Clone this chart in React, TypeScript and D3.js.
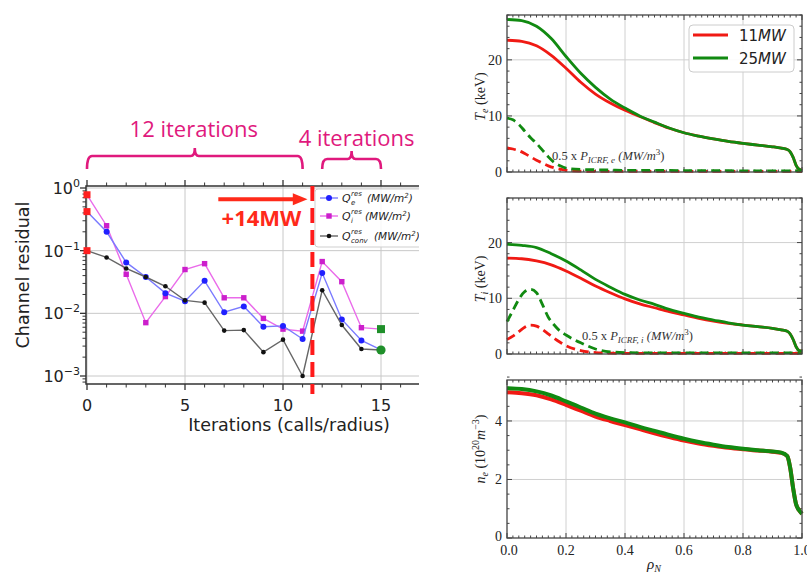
import React, { useEffect, useRef } from 'react';
import * as d3 from 'd3';

// ---------- left panel: channel residual per iteration ----------
const iterations = [0, 1, 2, 3, 4, 5, 6, 7, 8, 9, 10, 11, 12, 13, 14, 15];
const qeRes = [0.42, 0.2, 0.065, 0.038, 0.021, 0.0156, 0.033, 0.0104, 0.0129, 0.0061, 0.0063, 0.0039, 0.044, 0.008, 0.0037, 0.0026];
const qiRes = [0.78, 0.25, 0.042, 0.0071, 0.0185, 0.05, 0.062, 0.0177, 0.0177, 0.0083, 0.0056, 0.0052, 0.067, 0.032, 0.0059, 0.0056];
const qConvRes = [0.1, 0.078, 0.052, 0.038, 0.027, 0.0161, 0.0148, 0.0053, 0.0054, 0.0024, 0.0038, 0.001, 0.0234, 0.0065, 0.0027, 0.0026];
const iterTicks = [0, 5, 10, 15];
const decades = [1, 0.1, 0.01, 0.001];
const decadeExp = ['0', '\u22121', '\u22122', '\u22123'];
const bracketSpans = [[0, 11], [12, 15]];
const bracketLabels = ['12 iterations', '4 iterations'];
const powerStep = 11.5;

// ---------- right panels: profiles vs rho ----------
const rho = [0, 0.05, 0.1, 0.15, 0.2, 0.25, 0.3, 0.35, 0.4, 0.45, 0.5, 0.55, 0.6, 0.65, 0.7, 0.75, 0.8, 0.85, 0.9, 0.93, 0.95, 0.96, 0.97, 0.98, 0.99, 1.0];
const te11 = [23.5, 23.3, 22.5, 20.8, 18.5, 16.0, 13.9, 12.3, 11.0, 9.9, 8.8, 7.8, 7.0, 6.4, 5.9, 5.45, 5.1, 4.8, 4.5, 4.25, 4.0, 3.6, 2.6, 1.2, 0.5, 0.3];
const te25 = [27.2, 27.0, 26.0, 23.8, 20.6, 17.6, 15.1, 13.0, 11.4, 10.0, 8.9, 7.85, 7.0, 6.4, 5.9, 5.45, 5.1, 4.8, 4.5, 4.25, 4.0, 3.6, 2.6, 1.2, 0.5, 0.3];
const ti11 = [17.2, 17.1, 16.7, 16.0, 14.9, 13.6, 12.2, 11.0, 9.9, 9.0, 8.3, 7.6, 7.0, 6.4, 5.9, 5.5, 5.2, 4.9, 4.6, 4.35, 4.1, 3.6, 2.6, 1.3, 0.6, 0.5];
const ti25 = [19.7, 19.5, 19.1, 18.0, 16.7, 15.1, 13.4, 12.0, 10.7, 9.7, 8.9, 8.0, 7.3, 6.6, 6.1, 5.6, 5.2, 4.9, 4.6, 4.35, 4.1, 3.6, 2.6, 1.3, 0.6, 0.5];
const ne11 = [4.98, 4.95, 4.88, 4.74, 4.55, 4.35, 4.15, 4.0, 3.86, 3.72, 3.58, 3.45, 3.33, 3.23, 3.15, 3.08, 3.03, 2.99, 2.95, 2.91, 2.8, 2.4, 1.7, 1.15, 0.95, 0.83];
const ne25 = [5.12, 5.09, 5.01, 4.87, 4.67, 4.46, 4.25, 4.09, 3.95, 3.8, 3.66, 3.52, 3.39, 3.28, 3.19, 3.11, 3.05, 3.0, 2.96, 2.92, 2.8, 2.4, 1.7, 1.15, 0.95, 0.83];

const rhoIcrf = [0, 0.02, 0.04, 0.06, 0.08, 0.1, 0.12, 0.14, 0.16, 0.18, 0.2, 0.25, 0.3, 0.35, 0.4, 0.5, 0.6, 0.7, 0.8, 0.9, 1.0];
const pe11 = [4.3, 4.1, 3.8, 3.3, 2.7, 2.1, 1.6, 1.1, 0.75, 0.5, 0.3, 0.15, 0.1, 0.1, 0.1, 0.1, 0.1, 0.1, 0.1, 0.1, 0.1];
const pe25 = [9.6, 9.3, 8.5, 7.3, 6.1, 5.1, 3.9, 2.7, 1.7, 1.1, 0.7, 0.45, 0.4, 0.35, 0.3, 0.3, 0.25, 0.25, 0.2, 0.2, 0.2];
const pi11 = [2.6, 3.2, 4.0, 4.8, 5.2, 5.0, 4.4, 3.6, 2.8, 2.1, 1.5, 0.6, 0.25, 0.15, 0.1, 0.1, 0.1, 0.1, 0.1, 0.1, 0.1];
const pi25 = [5.8, 7.8, 9.8, 11.2, 11.6, 11.0, 8.9, 6.6, 5.2, 4.1, 3.4, 2.0, 0.9, 0.4, 0.25, 0.2, 0.2, 0.2, 0.2, 0.2, 0.2];

const rhoTicks = [0, 0.2, 0.4, 0.6, 0.8, 1.0];
const tempTicks = [0, 10, 20];
const densTicks = [0, 2, 4];
const powers = ['11', '25'];

const RED = '#f01a14';
const GREEN = '#118a11';
const PINK = '#e0197d';
const SANS = 'DejaVu Sans, sans-serif';
const SERIF = 'Liberation Serif, Times New Roman, serif';

type Part = { t: string; it?: boolean; dy?: number; fs?: number };

function rich(sel: any, parts: Part[]) {
  parts.forEach(p => {
    const ts = sel.append('tspan').text(p.t);
    if (p.it) ts.attr('font-style', 'italic');
    if (p.dy) ts.attr('dy', p.dy);
    if (p.fs) ts.attr('font-size', p.fs);
  });
}

function drawResiduals(svg: any) {
  const top = 186, bottom = 384, left = 86;
  const x = d3.scaleLinear().domain([0, 15]).range([87, 381]);
  const y = d3.scaleLog().domain([1, 0.001]).range([188, 376]);

  svg.append('clipPath').attr('id', 'leftClip')
    .append('rect').attr('x', 0).attr('y', 0).attr('width', 419).attr('height', 576);
  const g = svg.append('g').attr('clip-path', 'url(#leftClip)');

  // grid
  iterTicks.forEach(t => {
    g.append('line').attr('x1', x(t)).attr('x2', x(t)).attr('y1', top).attr('y2', bottom)
      .attr('stroke', '#c8c8c8').attr('stroke-width', 1);
  });
  decades.forEach(d => {
    g.append('line').attr('x1', left).attr('x2', 440).attr('y1', y(d)).attr('y2', y(d))
      .attr('stroke', '#c8c8c8').attr('stroke-width', 1);
  });

  // ticks (outward)
  for (let i = 0; i <= 18; i++) {
    const major = i % 5 === 0;
    const len = major ? 6 : 3.5;
    g.append('line').attr('x1', x(i)).attr('x2', x(i)).attr('y1', bottom).attr('y2', bottom + len)
      .attr('stroke', '#333').attr('stroke-width', major ? 1.3 : 1);
    g.append('line').attr('x1', x(i)).attr('x2', x(i)).attr('y1', top).attr('y2', top - len)
      .attr('stroke', '#333').attr('stroke-width', major ? 1.3 : 1);
  }
  [0.001, 0.01, 0.1, 1].forEach(d => {
    for (let k = 1; k <= 9; k++) {
      const v = d * k;
      const py = y(v);
      if (py < top || py > bottom) continue;
      const len = k === 1 ? 6 : 3.5;
      g.append('line').attr('x1', left - len).attr('x2', left).attr('y1', py).attr('y2', py)
        .attr('stroke', '#333').attr('stroke-width', k === 1 ? 1.3 : 1);
    }
  });
  [0.0008, 0.0009].forEach(v => {
    g.append('line').attr('x1', left - 3.5).attr('x2', left).attr('y1', y(v)).attr('y2', y(v))
      .attr('stroke', '#333');
  });

  // frame
  g.append('path').attr('d', `M440,${top}H${left}V${bottom}H440`)
    .attr('fill', 'none').attr('stroke', '#333').attr('stroke-width', 1.5);

  // tick labels
  iterTicks.forEach(t => {
    g.append('text').attr('x', x(t)).attr('y', 411).attr('text-anchor', 'middle')
      .attr('font-family', SANS).attr('font-size', 16).attr('fill', '#222').text(String(t));
  });
  decades.forEach((d, i) => {
    const t = g.append('text').attr('x', 80).attr('y', y(d) + 6).attr('text-anchor', 'end')
      .attr('font-family', SANS).attr('font-size', 16).attr('fill', '#222');
    rich(t, [{ t: '10' }, { t: decadeExp[i], dy: -7, fs: 11 }]);
  });

  // axis labels
  g.append('text').attr('x', 289).attr('y', 431).attr('text-anchor', 'middle')
    .attr('font-family', SANS).attr('font-size', 17.5).attr('fill', '#222')
    .text('Iterations (calls/radius)');
  g.append('text').attr('transform', 'translate(29,275) rotate(-90)').attr('text-anchor', 'middle')
    .attr('font-family', SANS).attr('font-size', 17.5).attr('fill', '#222')
    .text('Channel residual');

  // series
  const line = d3.line<number>().x((_, i) => x(iterations[i])).y(v => y(v));
  const series = [
    { vals: qiRes, line: '#ea6bea', mark: '#cc1fcc', shape: 'square' },
    { vals: qeRes, line: '#7a7aff', mark: '#2020ff', shape: 'circle' },
    { vals: qConvRes, line: '#666', mark: '#111', shape: 'dot' },
  ];
  series.forEach(s => {
    g.append('path').datum(s.vals).attr('d', line).attr('fill', 'none')
      .attr('stroke', s.line).attr('stroke-width', 1.4);
    s.vals.forEach((v, i) => {
      if (i === 0 || (i === 15 && s.shape !== 'dot')) return;
      if (s.shape === 'square') {
        g.append('rect').attr('x', x(iterations[i]) - 2.7).attr('y', y(v) - 2.7)
          .attr('width', 5.4).attr('height', 5.4).attr('fill', s.mark);
      } else {
        g.append('circle').attr('cx', x(iterations[i])).attr('cy', y(v))
          .attr('r', s.shape === 'circle' ? 3 : 2.3).attr('fill', s.mark);
      }
    });
  });
  // initial (red) and converged (green) markers
  [qiRes[0], qeRes[0], qConvRes[0]].forEach(v => {
    g.append('rect').attr('x', x(0) - 3.5).attr('y', y(v) - 3.5).attr('width', 7).attr('height', 7)
      .attr('fill', '#ff1f1f');
  });
  g.append('rect').attr('x', x(15) - 4).attr('y', y(qiRes[15]) - 4).attr('width', 8).attr('height', 8)
    .attr('fill', '#1f8f2a');
  g.append('circle').attr('cx', x(15)).attr('cy', y(qeRes[15])).attr('r', 4.6).attr('fill', '#1f8f2a');

  // power step
  g.append('line').attr('x1', x(powerStep)).attr('x2', x(powerStep)).attr('y1', top).attr('y2', bottom + 10)
    .attr('stroke', '#ff1a1a').attr('stroke-width', 4).attr('stroke-dasharray', '15 7');
  const ay = y(0.66);
  g.append('line').attr('x1', x(6.7)).attr('x2', x(10.6)).attr('y1', ay).attr('y2', ay)
    .attr('stroke', '#ff2a1a').attr('stroke-width', 4);
  g.append('path')
    .attr('d', `M${x(11.25)},${ay}L${x(10.5)},${ay - 6}L${x(10.5)},${ay + 6}Z`)
    .attr('fill', '#ff2a1a');
  g.append('text').attr('x', x(8.9)).attr('y', 226).attr('text-anchor', 'middle')
    .attr('font-family', 'Open Sans, sans-serif').attr('font-weight', 'bold').attr('font-size', 22)
    .attr('fill', '#ff2a1a').text('+14MW');

  // legend
  g.append('rect').attr('x', 315).attr('y', 189).attr('width', 130).attr('height', 58).attr('rx', 3)
    .attr('fill', 'rgba(255,255,255,0.85)').attr('stroke', '#cfcfcf');
  const legendRows = [
    { y: 198, line: '#7a7aff', mark: '#2020ff', shape: 'circle', sub: 'e', after: 367 },
    { y: 216, line: '#ea6bea', mark: '#cc1fcc', shape: 'square', sub: 'i', after: 365 },
    { y: 236, line: '#666', mark: '#111', shape: 'dot', sub: 'conv', after: 374 },
  ];
  legendRows.forEach(r => {
    g.append('line').attr('x1', 320).attr('x2', 338).attr('y1', r.y).attr('y2', r.y)
      .attr('stroke', r.line).attr('stroke-width', 1.4);
    if (r.shape === 'square') {
      g.append('rect').attr('x', 326.3).attr('y', r.y - 2.7).attr('width', 5.4).attr('height', 5.4).attr('fill', r.mark);
    } else {
      g.append('circle').attr('cx', 329).attr('cy', r.y).attr('r', r.shape === 'circle' ? 3 : 2.3).attr('fill', r.mark);
    }
    g.append('text').attr('x', 342).attr('y', r.y + 4).attr('font-family', SANS).attr('font-style', 'italic')
      .attr('font-size', 11).attr('fill', '#222').text('Q');
    g.append('text').attr('x', 351).attr('y', r.y - 2).attr('font-family', SANS).attr('font-style', 'italic')
      .attr('font-size', 7).attr('fill', '#222').text('res');
    g.append('text').attr('x', 351).attr('y', r.y + 7).attr('font-family', SANS).attr('font-style', 'italic')
      .attr('font-size', 7).attr('fill', '#222').text(r.sub);
    const t = g.append('text').attr('x', r.after).attr('y', r.y + 4).attr('font-family', SANS)
      .attr('font-style', 'italic').attr('font-size', 10.5).attr('fill', '#222');
    rich(t, [{ t: '(MW/m' }, { t: '2', dy: -4, fs: 7 }, { t: ')', dy: 4 }]);
  });

  // iteration brackets
  const brY = [[156, 148], [159, 151]];
  bracketSpans.forEach(([a, b], i) => {
    const x0 = x(a), x1 = x(b), m = (x0 + x1) / 2;
    const [hy, py] = brY[i];
    g.append('path')
      .attr('d', `M${x0},169 Q${x0},${hy} ${x0 + 5},${hy} L${m - 4},${hy} Q${m},${hy} ${m},${py} Q${m},${hy} ${m + 4},${hy} L${x1 - 5},${hy} Q${x1},${hy} ${x1},169`)
      .attr('fill', 'none').attr('stroke', PINK).attr('stroke-width', 2.6);
    g.append('text').attr('x', i === 0 ? m - 1 : m + 5).attr('y', i === 0 ? 137 : 146)
      .attr('text-anchor', 'middle').attr('font-family', 'Open Sans, sans-serif').attr('font-size', 22)
      .attr('fill', PINK).text(bracketLabels[i]);
  });
}

function drawProfiles(svg: any) {
  const left = 507, right = 802;
  const x = d3.scaleLinear().domain([0, 1]).range([left, right]);

  const panels = [
    { top: 15, bottom: 172, ymax: 28, ticks: tempTicks, minor: 2, solid: [te11, te25], dashed: [pe11, pe25], label: 'e', kind: 'T', note: 'e', noteX: 552, noteY: 160, lw: 2.8 },
    { top: 198, bottom: 354, ymax: 28, ticks: tempTicks, minor: 2, solid: [ti11, ti25], dashed: [pi11, pi25], label: 'i', kind: 'T', note: 'i', noteX: 582, noteY: 340, lw: 2.8 },
    { top: 380, bottom: 538, ymax: 5.4, ticks: densTicks, minor: 0.5, solid: [ne11, ne25], dashed: [], label: 'e', kind: 'n', note: '', noteX: 0, noteY: 0, lw: 4 },
  ];

  panels.forEach((p, pi) => {
    const y = d3.scaleLinear().domain([0, p.ymax]).range([p.bottom, p.top]);
    const g = svg.append('g');

    // grid
    rhoTicks.slice(1, -1).forEach(t => {
      g.append('line').attr('x1', x(t)).attr('x2', x(t)).attr('y1', p.top).attr('y2', p.bottom)
        .attr('stroke', '#d0d0d0').attr('stroke-width', 1);
    });
    p.ticks.slice(1).forEach(t => {
      g.append('line').attr('x1', left).attr('x2', right).attr('y1', y(t)).attr('y2', y(t))
        .attr('stroke', '#d0d0d0').attr('stroke-width', 1);
    });

    // ticks (inward, all sides)
    for (let k = 0; k <= 50; k++) {
      const v = k / 50;
      const major = k % 10 === 0;
      const len = major ? 5 : 2.5;
      [[p.bottom, -len], [p.top, len]].forEach(([yy, d]) => {
        g.append('line').attr('x1', x(v)).attr('x2', x(v)).attr('y1', yy).attr('y2', yy + d)
          .attr('stroke', '#444').attr('stroke-width', 1);
      });
    }
    const nMinor = Math.round(p.ymax / p.minor);
    for (let k = 0; k <= nMinor; k++) {
      const v = k * p.minor;
      const major = p.ticks.some(t => Math.abs(t - v) < 1e-9);
      const len = major ? 5 : 2.5;
      [[left, len], [right, -len]].forEach(([xx, d]) => {
        g.append('line').attr('x1', xx).attr('x2', xx + d).attr('y1', y(v)).attr('y2', y(v))
          .attr('stroke', '#444').attr('stroke-width', 1);
      });
    }

    // curves
    const solidLine = d3.line<number>().x((_, i) => x(rho[i])).y(v => y(v)).curve(d3.curveMonotoneX);
    const dashLine = d3.line<number>().x((_, i) => x(rhoIcrf[i])).y(v => y(v)).curve(d3.curveMonotoneX);
    p.dashed.forEach((vals, i) => {
      g.append('path').datum(vals).attr('d', dashLine).attr('fill', 'none')
        .attr('stroke', i === 0 ? RED : GREEN).attr('stroke-width', 2.8).attr('stroke-dasharray', '9 5');
    });
    p.solid.forEach((vals, i) => {
      g.append('path').datum(vals).attr('d', solidLine).attr('fill', 'none')
        .attr('stroke', i === 0 ? RED : GREEN).attr('stroke-width', p.lw);
    });

    // frame
    g.append('rect').attr('x', left).attr('y', p.top).attr('width', right - left).attr('height', p.bottom - p.top)
      .attr('fill', 'none').attr('stroke', '#444').attr('stroke-width', 1.3);

    // y tick labels
    p.ticks.forEach(t => {
      g.append('text').attr('x', 502).attr('y', y(t) + (pi === 2 && t === 0 ? 3 : 5)).attr('text-anchor', 'end')
        .attr('font-family', SERIF).attr('font-size', 14).attr('fill', '#222').text(String(t));
    });

    // y label
    const cy = (p.top + p.bottom) / 2 + (pi === 2 ? -10 : 3);
    const lab = g.append('text').attr('transform', `translate(485,${cy}) rotate(-90)`)
      .attr('text-anchor', 'middle').attr('font-family', SERIF).attr('font-size', 14).attr('fill', '#222');
    if (p.kind === 'T') {
      rich(lab, [{ t: 'T', it: true }, { t: p.label, it: true, dy: 3, fs: 10 }, { t: ' (keV)', dy: -3 }]);
    } else {
      rich(lab, [{ t: 'n', it: true }, { t: 'e', it: true, dy: 3, fs: 10 }, { t: ' (10', dy: -3 },
        { t: '20', dy: -6, fs: 10 }, { t: 'm', it: true, dy: 6 }, { t: '\u22123', dy: -6, fs: 10 }, { t: ')', dy: 6 }]);
    }

    // ICRF note
    if (p.note) {
      const n = g.append('text').attr('x', p.noteX).attr('y', p.noteY).attr('font-family', SERIF)
        .attr('font-size', 12.5).attr('fill', '#333');
      rich(n, [{ t: '0.5 x ' }, { t: 'P', it: true }, { t: `ICRF, ${p.note}`, it: true, dy: 3, fs: 9 },
        { t: ' (MW/m', it: true, dy: -3 }, { t: '3', dy: -5, fs: 9 }, { t: ')', dy: 5 }]);
    }

    // x tick labels on bottom panel
    if (pi === 2) {
      rhoTicks.forEach(t => {
        g.append('text').attr('x', x(t) + (t === 0 ? 2 : 0)).attr('y', 555).attr('text-anchor', 'middle')
          .attr('font-family', SERIF).attr('font-size', 14).attr('fill', '#222').text(t.toFixed(1));
      });
      const xl = g.append('text').attr('x', 654).attr('y', 569).attr('text-anchor', 'middle')
        .attr('font-family', SERIF).attr('font-size', 15).attr('fill', '#222');
      rich(xl, [{ t: '\u03c1', it: true }, { t: 'N', it: true, dy: 2.5, fs: 10 }]);
    }

    // legend in first panel
    if (pi === 0) {
      g.append('rect').attr('x', 689).attr('y', 25).attr('width', 105).attr('height', 47).attr('rx', 4)
        .attr('fill', 'rgba(255,255,255,0.9)').attr('stroke', '#cccccc');
      powers.forEach((pw, i) => {
        const ly = 35 + i * 23;
        g.append('line').attr('x1', 693).attr('x2', 728).attr('y1', ly).attr('y2', ly)
          .attr('stroke', i === 0 ? RED : GREEN).attr('stroke-width', 3);
        const t = g.append('text').attr('x', 739).attr('y', ly + 5.5).attr('font-family', SANS)
          .attr('font-size', 15).attr('fill', '#222');
        rich(t, [{ t: pw }, { t: 'MW', it: true }]);
      });
    }
  });
}

const App = () => {
  const svgRef = useRef<SVGSVGElement>(null);

  useEffect(() => {
    const svg = d3.select(svgRef.current);
    svg.selectAll('*').remove();
    svg.append('rect').attr('width', 807).attr('height', 576).attr('fill', '#fff');
    drawResiduals(svg);
    drawProfiles(svg);
  }, []);

  return (
    <svg ref={svgRef} width={807} height={576}
      style={{ position: 'absolute', left: 0, top: 0, display: 'block' }} />
  );
};

export default App;
